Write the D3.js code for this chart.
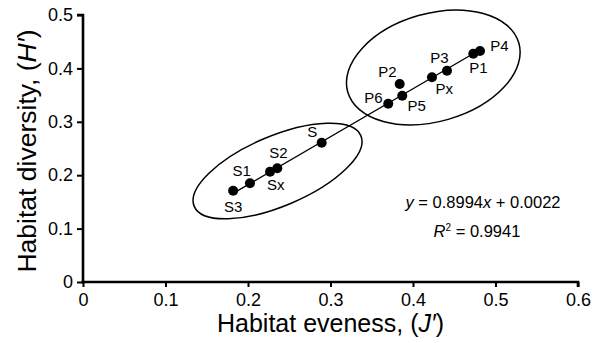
<!DOCTYPE html>
<html>
<head>
<meta charset="utf-8">
<script src="https://cdn.jsdelivr.net/npm/d3@7"></script>
<style>
  html, body { margin: 0; padding: 0; background: #fff; }
  svg { display: block; font-family: "Liberation Sans", Arial, Helvetica, sans-serif; }
</style>
</head>
<body>
<svg id="chart" width="596" height="343"></svg>
<script>
// Sampling sites
const sites = ["S3", "S1", "Sx", "S2", "S", "P6", "P5", "P2", "Px", "P3", "P1", "P4"];
// Habitat evenness J'
const evenness = [0.182, 0.2024, 0.2267, 0.2355, 0.2893, 0.370, 0.387, 0.3839, 0.423, 0.4412, 0.4731, 0.4812];
// Habitat diversity H'
const diversity = [0.171, 0.1848, 0.2066, 0.2129, 0.2609, 0.3339, 0.3489, 0.3708, 0.3833, 0.3957, 0.4275, 0.4326];

const xTicks = [0, 0.1, 0.2, 0.3, 0.4, 0.5, 0.6];
const yTicks = [0, 0.1, 0.2, 0.3, 0.4, 0.5];
const xTickLabels = ["0", "0.1", "0.2", "0.3", "0.4", "0.5", "0.6"];
const yTickLabels = ["0", "0.1", "0.2", "0.3", "0.4", "0.5"];

// Linear fit
const slope = 0.8994;
const intercept = 0.0022;
const r2 = 0.9941;

// Site groups (centres in data units)
const groupCenterX = [0.2358, 0.4246];
const groupCenterY = [0.2079, 0.4017];

const svg = d3.select("#chart");
const x = d3.scaleLinear().domain([0, 0.6]).range([83, 578]);
const y = d3.scaleLinear().domain([0, 0.5]).range([282, 15]);

// Axes
const xAxis = d3.axisBottom(x).tickValues(xTicks).tickSize(5).tickPadding(6)
  .tickFormat((d, i) => xTickLabels[i]);
const yAxis = d3.axisLeft(y).tickValues(yTicks).tickSize(6).tickPadding(4)
  .tickFormat((d, i) => yTickLabels[i]);

const gx = svg.append("g").attr("transform", `translate(0,${y(0)})`).call(xAxis);
const gy = svg.append("g").attr("transform", `translate(${x(0)},0)`).call(yAxis);
[gx, gy].forEach(g => {
  g.select(".domain").attr("stroke", "#000").attr("stroke-width", 2.6);
  g.selectAll(".tick line").attr("stroke", "#000").attr("stroke-width", 2);
  g.selectAll(".tick text").attr("fill", "#000").attr("font-size", 18)
    .attr("font-family", "'Liberation Sans', Arial, sans-serif");
});
gx.select(".domain").attr("d", `M${x(0) - 1.3},0H${x(0.6)}V5`);
gy.select(".domain").attr("d", `M-6,${y(0.5)}H0V${y(0) + 1.3}`);

// Axis titles
svg.append("text")
  .attr("x", (x(0) + x(0.6)) / 2).attr("y", 332)
  .attr("text-anchor", "middle").attr("font-size", 25)
  .html("Habitat eveness, (<tspan font-style='italic'>J′</tspan>)");
svg.append("text")
  .attr("transform", `translate(36,151) rotate(-90)`)
  .attr("text-anchor", "middle").attr("font-size", 26.5)
  .html("Habitat diversity, (<tspan font-style='italic'>H′</tspan>)");

// Group ellipses
const ellipseShape = [
  { rx: 90.5, ry: 35, angle: -23 },
  { rx: 89, ry: 54, angle: -16 }
];
svg.append("g").selectAll("ellipse")
  .data(ellipseShape)
  .join("ellipse")
  .attr("transform", (d, i) => `translate(${x(groupCenterX[i])},${y(groupCenterY[i])}) rotate(${d.angle})`)
  .attr("rx", d => d.rx).attr("ry", d => d.ry)
  .attr("fill", "none").attr("stroke", "#000").attr("stroke-width", 1.5);

// Regression line across the observed range
const xMin = d3.min(evenness), xMax = d3.max(evenness);
svg.append("path")
  .datum([xMin, xMax])
  .attr("d", d3.line().x(d => x(d)).y(d => y(slope * d + intercept)))
  .attr("stroke", "#000").attr("stroke-width", 1.3).attr("fill", "none");

// Points
const pts = sites.map((s, i) => ({ site: s, j: evenness[i], h: diversity[i] }));
svg.append("g").selectAll("circle")
  .data(pts).join("circle")
  .attr("cx", d => x(d.j)).attr("cy", d => y(d.h))
  .attr("r", 5).attr("fill", "#000");

// Site labels, offset from their points
const labelOffset = {
  S3: [0, 21], S1: [-8.3, -7.6], Sx: [5.7, 18.3], S2: [1.2, -10], S: [-9.5, -5.4],
  P6: [-14.8, -0.4], P5: [14.4, 15], P2: [-12.2, -6.7], Px: [12.4, 17],
  P3: [-7.5, -7.4], P1: [5.1, 19], P4: [19.5, -0.3]
};
svg.append("g").selectAll("text")
  .data(pts).join("text")
  .attr("x", d => x(d.j) + labelOffset[d.site][0])
  .attr("y", d => y(d.h) + labelOffset[d.site][1])
  .attr("text-anchor", "middle").attr("font-size", 15)
  .text(d => d.site);

// Fit equation
const eq = svg.append("g").attr("font-size", 16.5);
eq.append("text").attr("x", 483).attr("y", 208).attr("text-anchor", "middle")
  .html(`<tspan font-style="italic">y</tspan> = ${slope}<tspan font-style="italic">x</tspan> + ${intercept.toFixed(4)}`);
eq.append("text").attr("x", 477).attr("y", 237).attr("text-anchor", "middle")
  .html(`<tspan font-style="italic">R</tspan><tspan font-size="10" dy="-6">2</tspan><tspan dy="6"> = ${r2}</tspan>`);
</script>
</body>
</html>
